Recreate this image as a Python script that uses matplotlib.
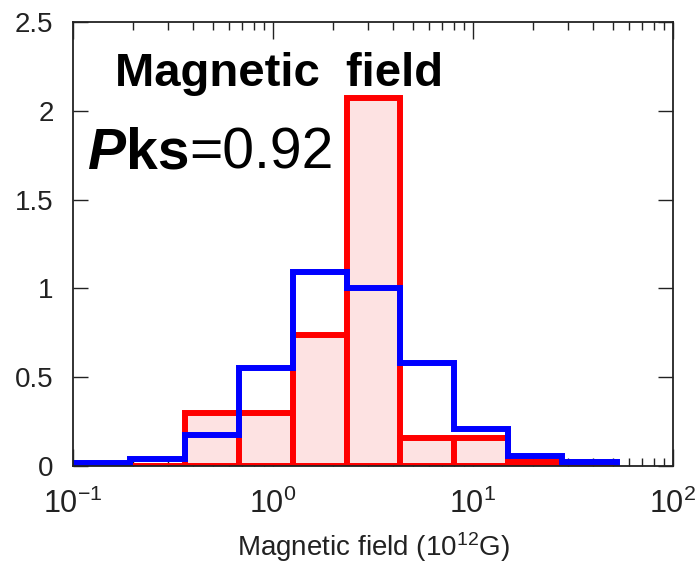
import numpy as np
import matplotlib
matplotlib.use("Agg")
import matplotlib.pyplot as plt
from matplotlib.transforms import offset_copy

plt.rcParams['font.family'] = ['Liberation Sans', 'DejaVu Sans']
plt.rcParams['mathtext.fontset'] = 'custom'
plt.rcParams['mathtext.rm'] = 'Liberation Sans'
plt.rcParams['mathtext.it'] = 'Liberation Sans:italic'
plt.rcParams['mathtext.bf'] = 'Liberation Sans:bold'

# bin edges (10^12 G)
edges = [0.1, 0.193, 0.363, 0.676, 1.259, 2.344, 4.315, 8.04, 14.96, 27.9, 52.5]
# red (filled) histogram
red_vals = [0.0, 0.0, 0.30, 0.30, 0.74, 2.07, 0.16, 0.16, 0.025, 0.0]
# blue (outline) histogram
blue_vals = [0.015, 0.04, 0.175, 0.55, 1.09, 1.0, 0.58, 0.21, 0.055, 0.02]

xticks = [0.1, 1, 10, 100]
xtick_labels = [r'$10^{-1}$', r'$10^{0}$', r'$10^{1}$', r'$10^{2}$']
yticks = [0, 0.5, 1, 1.5, 2, 2.5]
ytick_labels = ['0', '0.5', '1', '1.5', '2', '2.5']

fig = plt.figure(figsize=(6.98, 5.68), dpi=100)
ax = fig.add_axes([0.1046, 0.1796, 0.8596, 0.7817])

widths = np.diff(edges)
ax.bar(edges[:-1], red_vals, width=widths, align='edge',
       facecolor='#fde2e2', edgecolor='#ff0000', linewidth=4.3, zorder=2)
ax.stairs(blue_vals, edges, color='#0000ff', linewidth=4.3, zorder=3)

ax.set_xscale('log')
ax.set_xlim(0.1, 100)
ax.set_ylim(0, 2.5)
ax.set_xticks(xticks)
ax.set_xticklabels(xtick_labels, fontsize=22, color='#222222')
ax.set_yticks(yticks)
ax.set_yticklabels(ytick_labels, fontsize=20, color='#222222')

ax.tick_params(axis='both', which='both', direction='in', top=True, right=True,
               width=1.0, color='#222222')
ax.tick_params(axis='x', which='major', length=12, pad=16)
ax.tick_params(axis='x', which='minor', length=6)
ax.tick_params(axis='y', which='major', length=11, pad=14)
for s in ax.spines.values():
    s.set_linewidth(1.3)
    s.set_color('#222222')
    s.set_zorder(4)

ax.set_xlabel(r'Magnetic field (10$^{12}$G)', fontsize=20, color='#222222',
              labelpad=8)

# annotation texts
ax.text(0.07, 0.856, 'Magnetic  field', transform=ax.transAxes,
        fontsize=34, fontweight='bold', ha='left', va='baseline', zorder=5)

fig.canvas.draw()
r = fig.canvas.get_renderer()
t1 = ax.text(0.025, 0.67, 'P', transform=ax.transAxes, fontsize=41,
             fontweight='bold', fontstyle='italic', va='baseline', zorder=5)
w1 = t1.get_window_extent(r).width
t2 = ax.text(0.025, 0.67, 'ks', fontsize=41, fontweight='bold', va='baseline',
             transform=offset_copy(ax.transAxes, fig=fig, x=w1, y=0, units='dots'),
             zorder=5)
w2 = t2.get_window_extent(r).width
ax.text(0.025, 0.67, '=0.92', fontsize=41, va='baseline',
        transform=offset_copy(ax.transAxes, fig=fig, x=w1 + w2, y=0, units='dots'),
        zorder=5)

fig.savefig('out.png', dpi=100)
